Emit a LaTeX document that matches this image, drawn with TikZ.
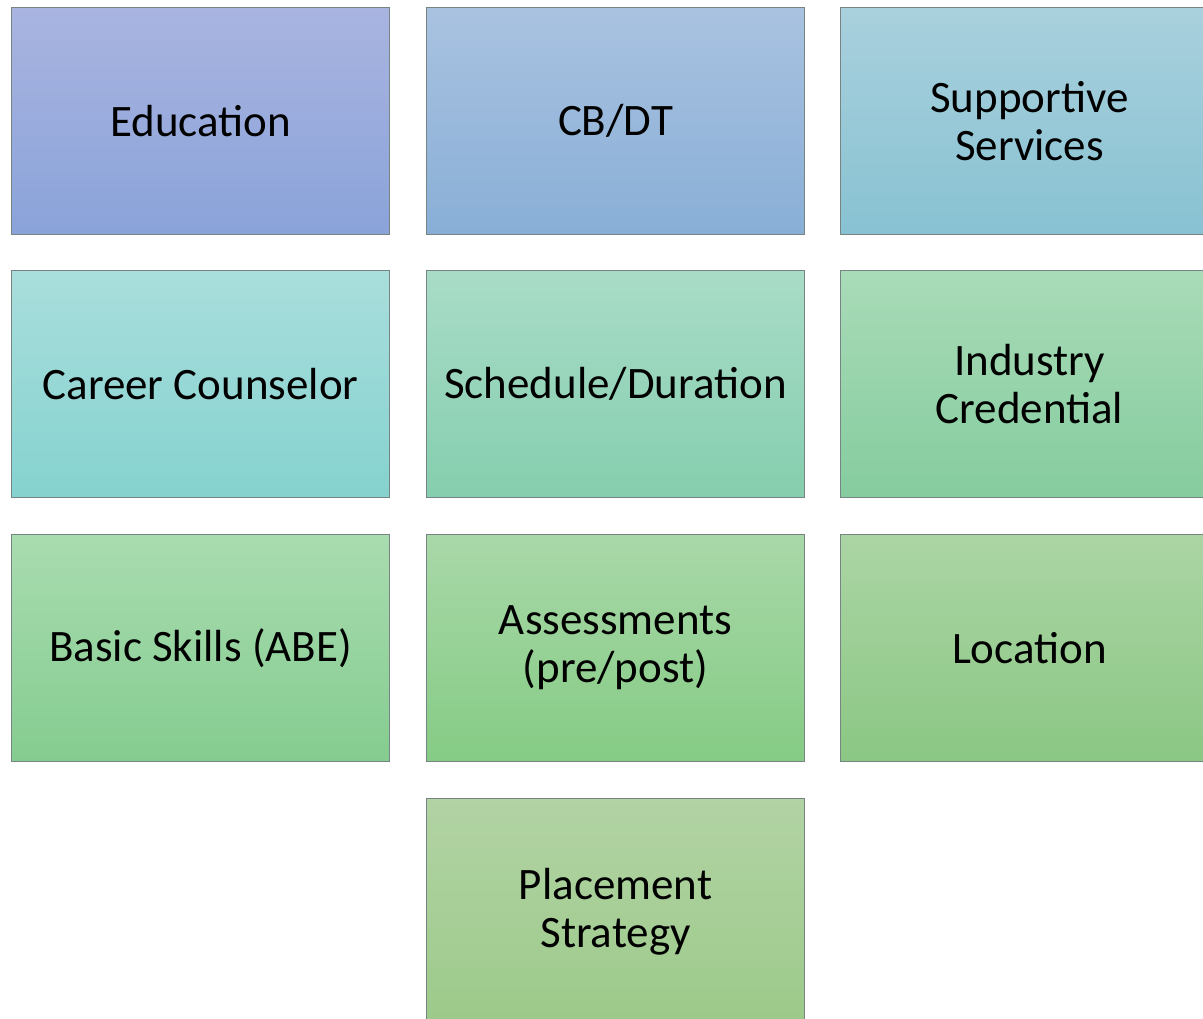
\documentclass[tikz,border=0pt]{standalone}
\usepackage{fontspec}
\setmainfont{Carlito}
\usetikzlibrary{positioning}
\definecolor{bordergray}{RGB}{120,132,132}
\begin{document}
\begin{tikzpicture}[node distance=0.9cm]
	\tikzset{tile/.style={rectangle,draw=bordergray,line width=0.7pt,minimum width=9.45cm,
	minimum height=5.675cm,align=center,inner sep=2pt,font=\fontsize{32}{34}\selectfont}}
	\clip (0,0) rectangle (30.075,-25.45);

	\node (edu) [tile,anchor=north west,top color={rgb,255:red,169;green,180;blue,224},bottom color={rgb,255:red,138;green,163;blue,217}] at (0.275,-0.175) {Education};
	\node (cbdt) [tile,right=of edu,top color={rgb,255:red,169;green,194;blue,224},bottom color={rgb,255:red,137;green,175;blue,215}] {CB/DT};
	\node (supp) [tile,right=0.875cm of cbdt,top color={rgb,255:red,169;green,208;blue,221},bottom color={rgb,255:red,136;green,194;blue,210}] {Supportive\\Services};

	\node (career) [tile,below=0.875cm of edu,top color={rgb,255:red,169;green,222;blue,220},bottom color={rgb,255:red,133;green,210;blue,207}] {Career Counselor};
	\node (sched) [tile,right=of career,top color={rgb,255:red,169;green,220;blue,200},bottom color={rgb,255:red,133;green,206;blue,174}] {Schedule/Duration};
	\node (cred) [tile,right=0.875cm of sched,top color={rgb,255:red,169;green,219;blue,184},bottom color={rgb,255:red,133;green,204;blue,158}] {Industry\\Credential};

	\node (abe) [tile,below=of career,top color={rgb,255:red,169;green,220;blue,176},bottom color={rgb,255:red,133;green,204;blue,144}] {Basic Skills (ABE)};
	\node (assess) [tile,right=of abe,top color={rgb,255:red,169;green,216;blue,168},bottom color={rgb,255:red,133;green,203;blue,133}] {Assessments\\(pre/post)};
	\node (loc) [tile,right=0.875cm of assess,top color={rgb,255:red,171;green,213;blue,164},bottom color={rgb,255:red,139;green,199;blue,132}] {Location};

	\node (place) [tile,below=of assess,top color={rgb,255:red,178;green,211;blue,164},bottom color={rgb,255:red,156;green,202;blue,138}] {Placement\\Strategy};
\end{tikzpicture}
\end{document}
